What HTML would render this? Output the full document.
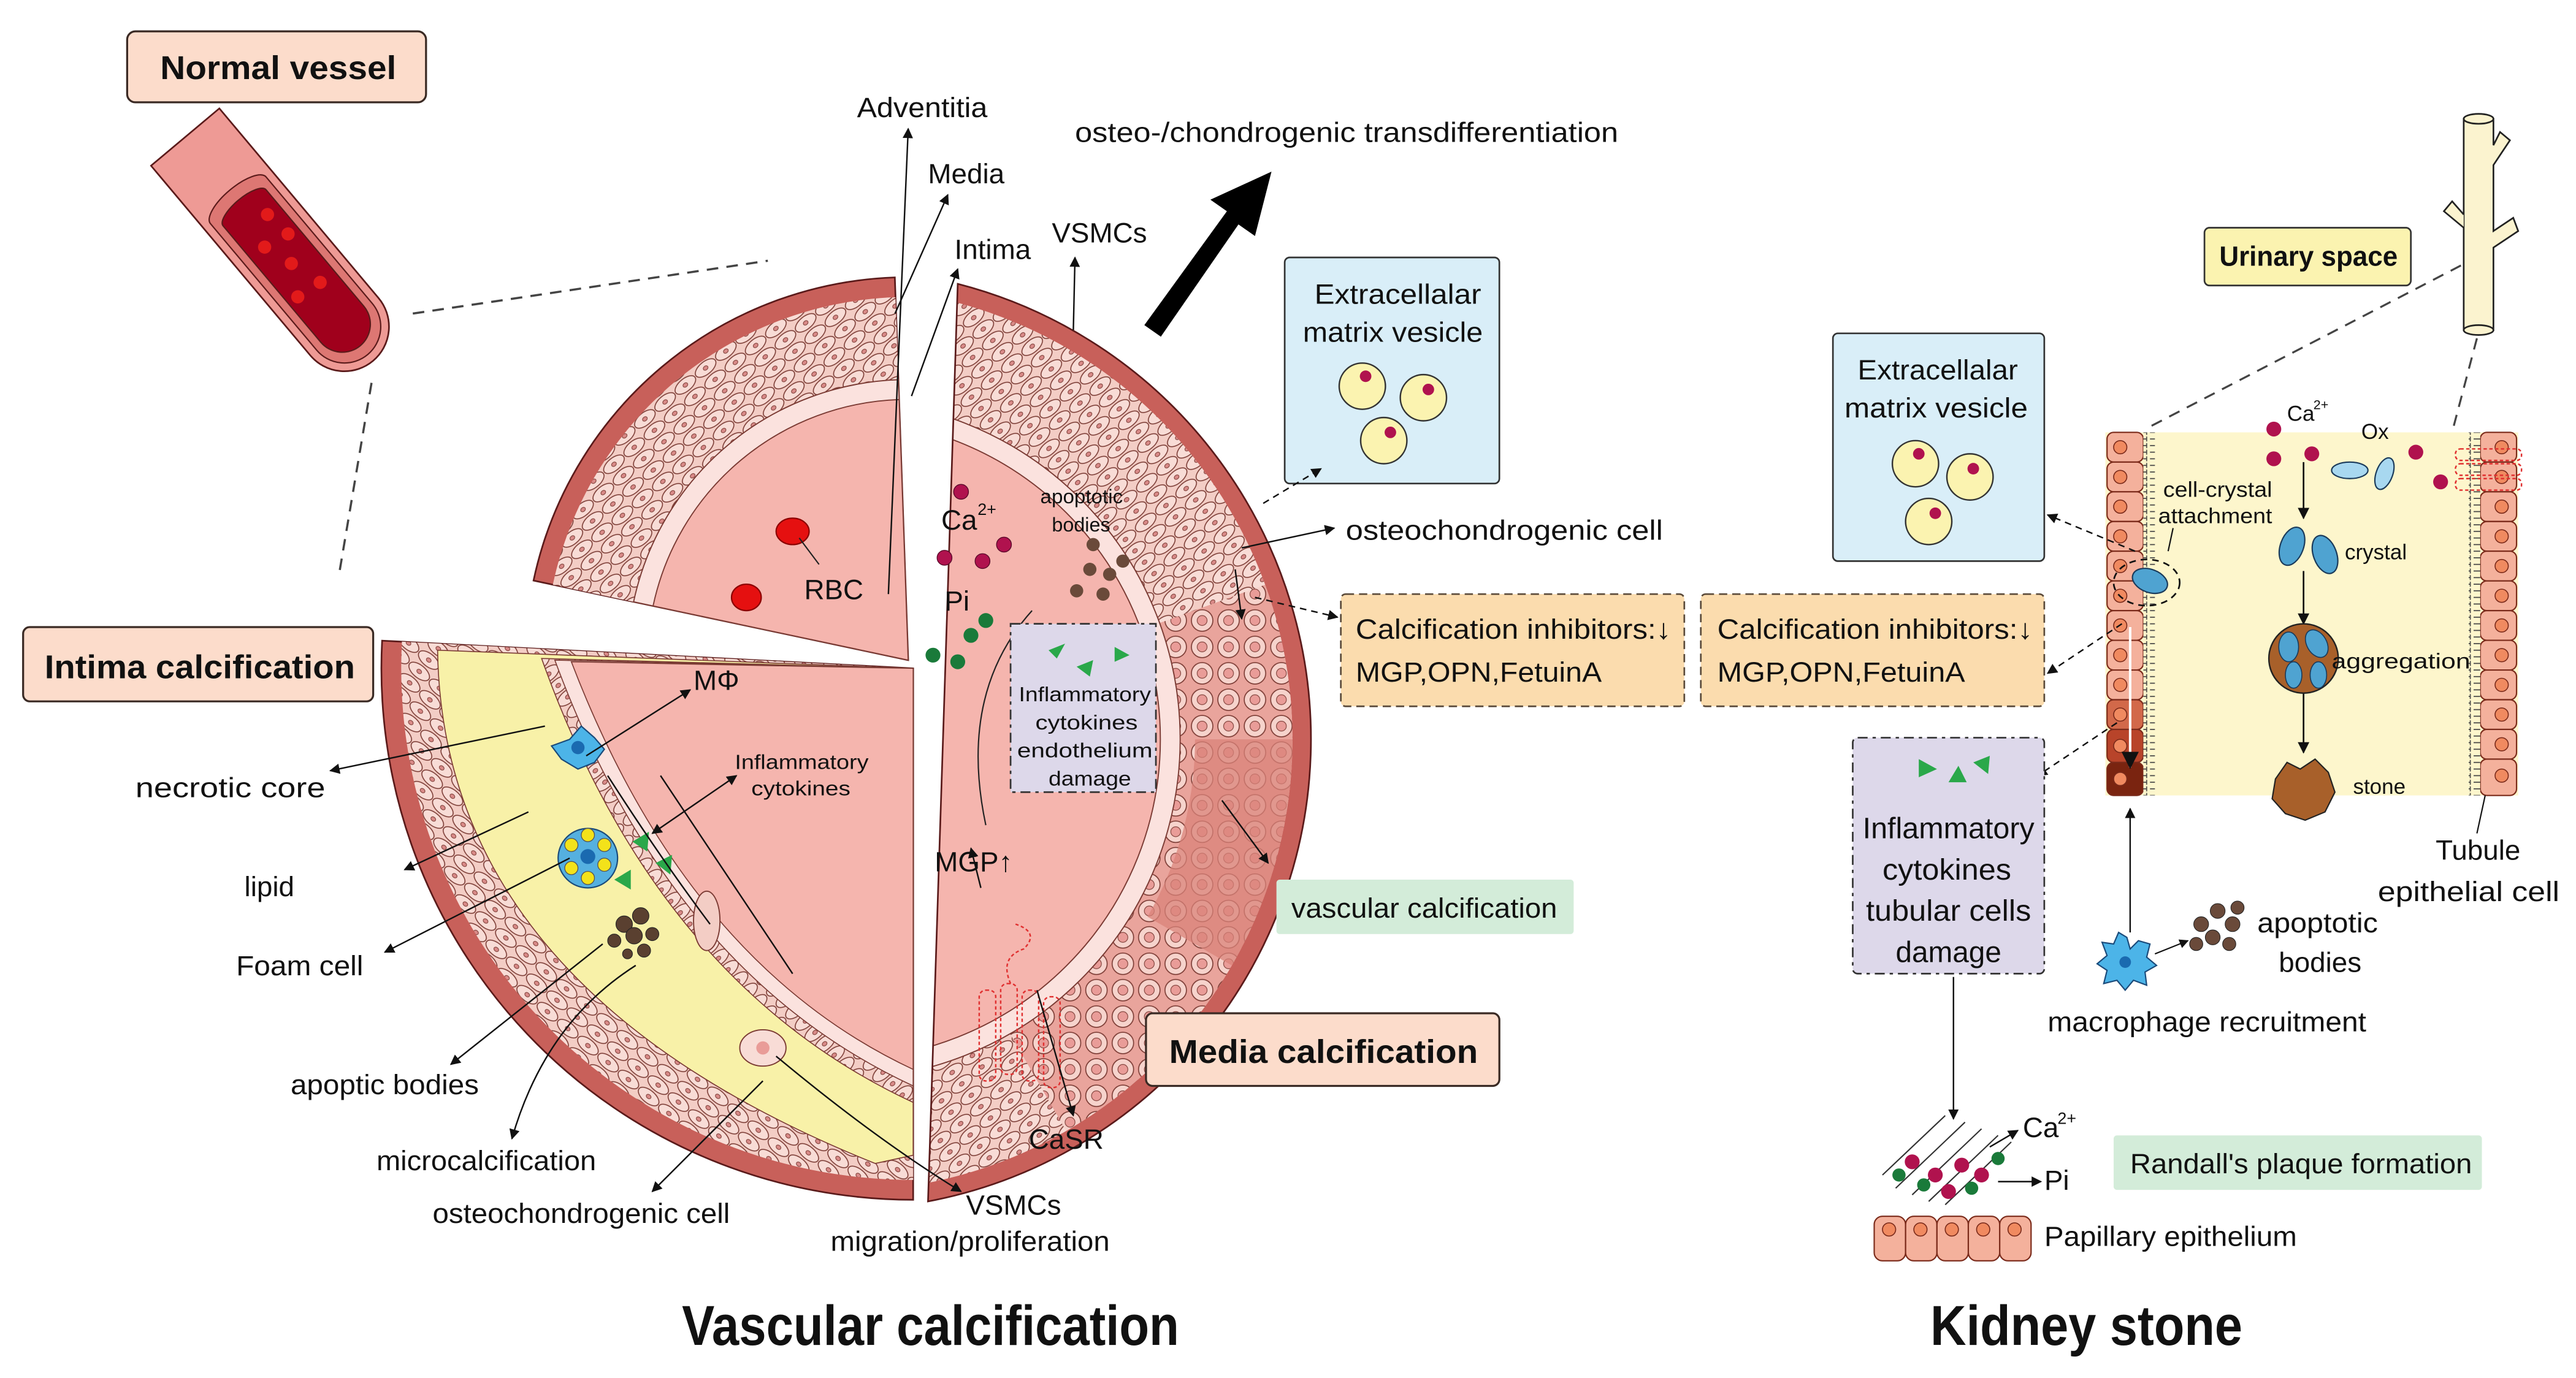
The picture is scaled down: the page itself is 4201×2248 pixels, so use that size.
<!DOCTYPE html>
<html><head><meta charset="utf-8">
<style>
html,body{margin:0;padding:0;background:#fff;}
svg{display:block;}
text{font-family:"Liberation Sans",Arial,sans-serif;fill:#111;}
</style></head>
<body>
<svg width="4201" height="2248" viewBox="0 0 1560 835" preserveAspectRatio="none" xmlns="http://www.w3.org/2000/svg">
<defs>
<marker id="ah" viewBox="0 0 10 10" refX="9" refY="5" markerWidth="7" markerHeight="7" orient="auto-start-reverse"><path d="M0,0 L10,5 L0,10 z" fill="#111"/></marker>
<pattern id="cells" width="16" height="9" patternUnits="userSpaceOnUse" patternTransform="rotate(-40)">
<rect width="16" height="9" fill="#f3cdc5"/>
<ellipse cx="8" cy="4.5" rx="7.5" ry="3.8" fill="#f8dcd6" stroke="#7a3a33" stroke-width="0.6"/>
<ellipse cx="8" cy="4.5" rx="1.6" ry="1.2" fill="#d98a88" stroke="#7a3a33" stroke-width="0.4"/>
</pattern>
<pattern id="cells2" width="16" height="9" patternUnits="userSpaceOnUse" patternTransform="rotate(40)">
<rect width="16" height="9" fill="#f3cdc5"/>
<ellipse cx="8" cy="4.5" rx="7.5" ry="3.8" fill="#f8dcd6" stroke="#7a3a33" stroke-width="0.6"/>
<ellipse cx="8" cy="4.5" rx="1.6" ry="1.2" fill="#d98a88" stroke="#7a3a33" stroke-width="0.4"/>
</pattern>
<pattern id="calc" width="16" height="16" patternUnits="userSpaceOnUse">
<rect width="16" height="16" fill="#e9a49c"/>
<circle cx="8" cy="8" r="6.5" fill="#f6d3cc" stroke="#7a3a33" stroke-width="0.6"/>
<circle cx="8" cy="8" r="3" fill="#e99c98" stroke="#7a3a33" stroke-width="0.4"/>
</pattern>
<pattern id="villi" width="7" height="4" patternUnits="userSpaceOnUse">
<rect width="7" height="4" fill="#fdf6cc"/>
<path d="M0,2 H5 M5,0.5 V3.5" stroke="#444" stroke-width="0.6"/>
</pattern>
<clipPath id="rclip"><path d="M580,172 A285,285 0 0 1 562,728 Z"/></clipPath>
</defs>

<!-- Normal vessel -->
<rect x="77" y="19" width="181" height="43" rx="5" fill="#fcdccb" stroke="#3a2a24" stroke-width="1.2"/>
<text x="97" y="48" font-size="20" font-weight="bold" textLength="143" lengthAdjust="spacingAndGlyphs">Normal vessel</text>
<g transform="translate(170,152) rotate(50)">
<path d="M-90,-27 H60 A27,27 0 0 1 60,27 H-90 Z" fill="#ee9a95" stroke="#5a1a1a" stroke-width="1"/>
<path d="M-40,-22 H60 A22,22 0 0 1 60,22 H-40 A8,22 0 0 1 -40,-22Z" fill="#dd7773" stroke="#5a1a1a" stroke-width="0.8"/>
<path d="M-34,-17 H58 A17,17 0 0 1 58,17 H-34 A6,17 0 0 1 -34,-17Z" fill="#a0001c" stroke="#5a1a1a" stroke-width="0.8"/>
<circle cx="-22" cy="-8" r="4" fill="#e21a1a"/><circle cx="-5" cy="-10" r="4" fill="#e21a1a"/>
<circle cx="-8" cy="6" r="4" fill="#e21a1a"/><circle cx="10" cy="0" r="4" fill="#e21a1a"/>
<circle cx="30" cy="-6" r="4" fill="#e21a1a"/><circle cx="28" cy="10" r="4" fill="#e21a1a"/>
</g>
<line x1="250" y1="190" x2="465" y2="158" stroke="#444" stroke-width="1.3" stroke-dasharray="7,5"/>
<line x1="225" y1="232" x2="205" y2="350" stroke="#444" stroke-width="1.3" stroke-dasharray="7,5"/>

<!-- Top-left sector -->
<path d="M550,400 L323.1,351.8 A232,232 0 0 1 541.9,168.1 Z" fill="#c8605a" stroke="#5a1a1a" stroke-width="1"/>
<path d="M550,400 L334.8,354.3 A220,220 0 0 1 542.3,180.1 Z" fill="url(#cells)"/>
<path d="M550,400 L383.7,364.7 A170,170 0 0 1 544.1,230.1 Z" fill="#fbe2de" stroke="#7a3a33" stroke-width="0.7"/>
<path d="M550,400 L395.5,367.2 A158,158 0 0 1 544.5,242.1 Z" fill="#f5b5ae" stroke="#7a3a33" stroke-width="0.7"/>
<ellipse cx="480" cy="322" rx="10" ry="8" fill="#e51010" stroke="#8a0000" stroke-width="0.8"/>
<ellipse cx="452" cy="362" rx="9" ry="8" fill="#e51010" stroke="#8a0000" stroke-width="0.8"/>
<line x1="484" y1="326" x2="496" y2="342" stroke="#222" stroke-width="0.8"/>
<text x="487" y="363" font-size="17">RBC</text>

<!-- Bottom-left sector -->
<path d="M553,405 L231.4,388.2 A322,322 0 0 0 553,727 Z" fill="#c8605a" stroke="#5a1a1a" stroke-width="1"/>
<path d="M553,405 L243.4,388.8 A310,310 0 0 0 553,715 Z" fill="url(#cells2)"/>
<path d="M553,405 L265,394 Q268,600 530,705 L553,700 Z" fill="#f8f1a8" stroke="#7a3a33" stroke-width="0.6"/>
<path d="M553,405 L328,399 Q398,596 553,668 Z" fill="url(#cells)" stroke="#7a3a33" stroke-width="0.6"/>
<path d="M553,405 L336,400 Q406,590 553,658 Z" fill="#fbe2de" stroke="#7a3a33" stroke-width="0.6"/>
<path d="M553,405 L346,401 Q416,584 553,648 Z" fill="#f5b5ae" stroke="#7a3a33" stroke-width="0.6"/>
<!-- plaque content -->
<polygon points="345,448 352,440 360,447 366,454 360,462 350,466 340,460 334,452" fill="#4cb4e8" stroke="#1a4a7a" stroke-width="0.8"/>
<circle cx="350" cy="453" r="4" fill="#1a6ab0"/>
<circle cx="356" cy="520" r="18" fill="#55b0e0" stroke="#1a4a7a" stroke-width="0.8"/>
<g fill="#f3e21a" stroke="#555" stroke-width="0.5"><circle cx="346" cy="512" r="4"/><circle cx="356" cy="506" r="4"/><circle cx="366" cy="512" r="4"/><circle cx="366" cy="524" r="4"/><circle cx="356" cy="532" r="4"/><circle cx="346" cy="526" r="4"/></g>
<circle cx="356" cy="519" r="4.5" fill="#1a6ab0"/>
<g fill="#5a4030" stroke="#222" stroke-width="0.4"><circle cx="378" cy="560" r="5"/><circle cx="388" cy="555" r="5"/><circle cx="384" cy="567" r="5"/><circle cx="372" cy="570" r="4"/><circle cx="395" cy="566" r="4"/><circle cx="390" cy="576" r="4"/><circle cx="380" cy="578" r="3"/></g>
<polygon points="383,510 393,504 392,516" fill="#2aa84a"/><polygon points="397,523 407,518 406,530" fill="#2aa84a"/><polygon points="372,533 382,527 382,539" fill="#2aa84a"/>
<ellipse cx="428" cy="558" rx="8" ry="18" fill="#f3cdc5" stroke="#7a3a33" stroke-width="0.7"/>
<ellipse cx="462" cy="635" rx="14" ry="11" fill="#f8dcd6" stroke="#7a3a33" stroke-width="0.7"/>
<circle cx="462" cy="635" r="4" fill="#e99c98"/>

<!-- Right sector -->
<g clip-path="url(#rclip)">
<circle cx="508.7" cy="448" r="285" fill="#c8605a"/>
<circle cx="508.7" cy="448" r="274" fill="url(#cells)"/>
<path d="M766.2,354.3 A274,274 0 0 1 645.7,685.3 L611.7,626.4 A206,206 0 0 0 702.3,377.5 Z" fill="url(#calc)"/>
<path d="M782.7,448 A274,274 0 0 1 746,585 L694.9,555.5 A215,215 0 0 0 723.7,448 Z" fill="#d9837a" opacity="0.75"/>
<circle cx="508.7" cy="448" r="206" fill="#fbe2de" stroke="#7a3a33" stroke-width="0.7"/>
<circle cx="508.7" cy="448" r="194" fill="#f5b5ae" stroke="#7a3a33" stroke-width="0.7"/>
</g>
<path d="M580,172 A285,285 0 0 1 562,728 Z" fill="none" stroke="#5a1a1a" stroke-width="1"/>
<g fill="#b0124e" stroke="#5a0a2a" stroke-width="0.5"><circle cx="582" cy="298" r="4.5"/><circle cx="608" cy="330" r="4.5"/><circle cx="595" cy="340" r="4.5"/><circle cx="572" cy="338" r="4.5"/></g>
<text x="570" y="321" font-size="17">Ca</text><text x="592" y="312" font-size="10">2+</text>
<text x="572" y="370" font-size="17">Pi</text>
<g fill="#1a7a3a"><circle cx="565" cy="397" r="4.5"/><circle cx="588" cy="385" r="4.5"/><circle cx="580" cy="401" r="4.5"/><circle cx="597" cy="376" r="4.5"/></g>
<g fill="#6a4a3a"><circle cx="660" cy="345" r="4"/><circle cx="672" cy="348" r="4"/><circle cx="652" cy="358" r="4"/><circle cx="668" cy="360" r="4"/><circle cx="680" cy="340" r="4"/><circle cx="662" cy="330" r="4"/></g>
<text x="630" y="305" font-size="12" textLength="50" lengthAdjust="spacingAndGlyphs">apoptotic</text>
<text x="637" y="322" font-size="12">bodies</text>
<path d="M625,370 Q580,420 597,500" stroke="#222" fill="none" stroke-width="0.8"/>
<rect x="612" y="378" width="88" height="102" fill="#ddd8ea" stroke="#333" stroke-width="1" stroke-dasharray="6,3,2,3"/>
<polygon points="635,394 645,390 640,399" fill="#2aa84a"/><polygon points="652,404 662,400 660,410" fill="#2aa84a"/><polygon points="675,392 684,397 675,401" fill="#2aa84a"/>
<text x="617" y="425" font-size="12.5" textLength="80" lengthAdjust="spacingAndGlyphs">Inflammatory</text>
<text x="627" y="442" font-size="12.5" textLength="62" lengthAdjust="spacingAndGlyphs">cytokines</text>
<text x="616" y="459" font-size="12.5" textLength="82" lengthAdjust="spacingAndGlyphs">endothelium</text>
<text x="635" y="476" font-size="12.5" textLength="50" lengthAdjust="spacingAndGlyphs">damage</text>
<g stroke="#e03030" fill="none" stroke-width="0.9" stroke-dasharray="2,1.5">
<rect x="593" y="600" width="10" height="55" rx="4"/><rect x="606" y="596" width="10" height="55" rx="4"/><rect x="619" y="600" width="10" height="55" rx="4"/><rect x="632" y="604" width="10" height="55" rx="4"/>
<path d="M612,596 Q605,580 620,575 Q630,565 615,560"/></g>
<text x="566" y="528" font-size="17">MGP↑</text>
<line x1="594" y1="538" x2="588" y2="514" stroke="#111" stroke-width="0.9" marker-end="url(#ah)"/>
<line x1="628" y1="600" x2="650" y2="676" stroke="#111" stroke-width="0.9" marker-end="url(#ah)"/>
<text x="623" y="696" font-size="17">CaSR</text>

<!-- top labels -->
<line x1="538" y1="360" x2="550" y2="78" stroke="#111" stroke-width="0.9" marker-end="url(#ah)"/>
<line x1="542" y1="190" x2="574" y2="118" stroke="#111" stroke-width="0.9" marker-end="url(#ah)"/>
<line x1="552" y1="240" x2="580" y2="163" stroke="#111" stroke-width="0.9" marker-end="url(#ah)"/>
<line x1="650" y1="200" x2="651" y2="156" stroke="#111" stroke-width="0.9" marker-end="url(#ah)"/>
<text x="519" y="71" font-size="17" textLength="79" lengthAdjust="spacingAndGlyphs">Adventitia</text>
<text x="562" y="111" font-size="17">Media</text>
<text x="578" y="157" font-size="17">Intima</text>
<text x="637" y="147" font-size="17">VSMCs</text>
<text x="651" y="86" font-size="17" textLength="329" lengthAdjust="spacingAndGlyphs">osteo-/chondrogenic transdifferentiation</text>
<polygon points="693,197 743,128 733,121 770,104 760,143 750,136 703,204" fill="#000"/>

<!-- ECM vesicle box -->
<rect x="778" y="156" width="130" height="137" rx="3" fill="#d9eef8" stroke="#333" stroke-width="1"/>
<text x="796" y="184" font-size="17" textLength="101" lengthAdjust="spacingAndGlyphs">Extracellalar</text>
<text x="789" y="207" font-size="17" textLength="109" lengthAdjust="spacingAndGlyphs">matrix vesicle</text>
<g fill="#fbf3b0" stroke="#333" stroke-width="0.9"><circle cx="825" cy="234" r="14"/><circle cx="862" cy="241" r="14"/><circle cx="838" cy="267" r="14"/></g>
<g fill="#b0124e"><circle cx="827" cy="228" r="3.5"/><circle cx="865" cy="236" r="3.5"/><circle cx="842" cy="262" r="3.5"/></g>
<line x1="765" y1="305" x2="800" y2="284" stroke="#111" stroke-width="0.9" stroke-dasharray="4,3" marker-end="url(#ah)"/>
<line x1="752" y1="332" x2="808" y2="320" stroke="#111" stroke-width="0.9" marker-end="url(#ah)"/>
<text x="815" y="327" font-size="17" textLength="192" lengthAdjust="spacingAndGlyphs">osteochondrogenic cell</text>
<line x1="760" y1="362" x2="810" y2="374" stroke="#111" stroke-width="0.9" stroke-dasharray="4,3" marker-end="url(#ah)"/>
<line x1="748" y1="345" x2="752" y2="375" stroke="#111" stroke-width="0.9" marker-end="url(#ah)"/>
<line x1="740" y1="485" x2="768" y2="523" stroke="#111" stroke-width="0.9" marker-end="url(#ah)"/>

<!-- inhibitor boxes -->
<rect x="812" y="360" width="208" height="68" rx="3" fill="#fbdcae" stroke="#5a4a3a" stroke-width="1" stroke-dasharray="5,3"/>
<text x="821" y="387" font-size="17" textLength="191" lengthAdjust="spacingAndGlyphs">Calcification inhibitors:↓</text>
<text x="821" y="413" font-size="17" textLength="149" lengthAdjust="spacingAndGlyphs">MGP,OPN,FetuinA</text>
<rect x="1030" y="360" width="208" height="68" rx="3" fill="#fbdcae" stroke="#5a4a3a" stroke-width="1" stroke-dasharray="5,3"/>
<text x="1040" y="387" font-size="17" textLength="191" lengthAdjust="spacingAndGlyphs">Calcification inhibitors:↓</text>
<text x="1040" y="413" font-size="17" textLength="150" lengthAdjust="spacingAndGlyphs">MGP,OPN,FetuinA</text>

<rect x="773" y="533" width="180" height="33" rx="2" fill="#d3ecd9"/>
<text x="782" y="556" font-size="17" textLength="161" lengthAdjust="spacingAndGlyphs">vascular calcification</text>
<rect x="694" y="614" width="214" height="44" rx="4" fill="#fcdccb" stroke="#3a2a24" stroke-width="1.2"/>
<text x="708" y="644" font-size="20" font-weight="bold" textLength="187" lengthAdjust="spacingAndGlyphs">Media calcification</text>

<!-- Intima calcification label & left labels -->
<rect x="14" y="380" width="212" height="45" rx="4" fill="#fcdccb" stroke="#3a2a24" stroke-width="1.2"/>
<text x="27" y="411" font-size="20" font-weight="bold" textLength="188" lengthAdjust="spacingAndGlyphs">Intima calcification</text>
<g stroke="#111" stroke-width="0.9" fill="none">
<line x1="330" y1="440" x2="200" y2="467" marker-end="url(#ah)"/>
<line x1="320" y1="492" x2="245" y2="527" marker-end="url(#ah)"/>
<line x1="345" y1="520" x2="233" y2="577" marker-end="url(#ah)"/>
<line x1="365" y1="572" x2="273" y2="645" marker-end="url(#ah)"/>
<path d="M385,585 Q330,620 310,690" marker-end="url(#ah)"/>
<line x1="462" y1="655" x2="395" y2="722" marker-end="url(#ah)"/>
<path d="M470,640 Q530,690 582,722" marker-end="url(#ah)"/>
<line x1="355" y1="458" x2="418" y2="418" marker-end="url(#ah)"/>
<line x1="395" y1="505" x2="446" y2="470" marker-start="url(#ah)" marker-end="url(#ah)"/>
<path d="M368,470 Q400,520 430,560"/>
<path d="M400,470 Q440,530 480,590"/>
</g>
<text x="420" y="418" font-size="17">MΦ</text>
<text x="445" y="466" font-size="12.5" textLength="81" lengthAdjust="spacingAndGlyphs">Inflammatory</text>
<text x="455" y="482" font-size="12.5" textLength="60" lengthAdjust="spacingAndGlyphs">cytokines</text>
<text x="82" y="483" font-size="17" textLength="115" lengthAdjust="spacingAndGlyphs">necrotic core</text>
<text x="148" y="543" font-size="17">lipid</text>
<text x="143" y="591" font-size="17" textLength="77" lengthAdjust="spacingAndGlyphs">Foam cell</text>
<text x="176" y="663" font-size="17" textLength="114" lengthAdjust="spacingAndGlyphs">apoptic bodies</text>
<text x="228" y="709" font-size="17" textLength="133" lengthAdjust="spacingAndGlyphs">microcalcification</text>
<text x="262" y="741" font-size="17" textLength="180" lengthAdjust="spacingAndGlyphs">osteochondrogenic cell</text>
<text x="585" y="736" font-size="17">VSMCs</text>
<text x="503" y="758" font-size="17" textLength="169" lengthAdjust="spacingAndGlyphs">migration/proliferation</text>

<text x="413" y="815" font-size="34" font-weight="bold" textLength="301" lengthAdjust="spacingAndGlyphs">Vascular calcification</text>
<text x="1169" y="815" font-size="34" font-weight="bold" textLength="189" lengthAdjust="spacingAndGlyphs">Kidney stone</text>

<!-- Kidney right panel -->
<rect x="1335" y="138" width="125" height="35" rx="3" fill="#fbf3b0" stroke="#333" stroke-width="1"/>
<text x="1344" y="161" font-size="17" font-weight="bold" textLength="108" lengthAdjust="spacingAndGlyphs">Urinary space</text>
<path d="M1492,72 V200 H1510 V150 L1525,140 L1522,132 L1510,140 V100 L1520,85 L1514,80 L1510,88 V72 Z" fill="#fbf3cf" stroke="#222" stroke-width="1"/>
<path d="M1492,138 L1480,128 L1485,122 L1492,130" fill="#fbf3cf" stroke="#222" stroke-width="1"/>
<ellipse cx="1501" cy="72" rx="9" ry="3" fill="#fbf3cf" stroke="#222" stroke-width="1"/>
<ellipse cx="1501" cy="200" rx="9" ry="3" fill="#fbf3cf" stroke="#222" stroke-width="1"/>
<line x1="1303" y1="258" x2="1492" y2="160" stroke="#444" stroke-width="1.2" stroke-dasharray="7,5"/>
<line x1="1500" y1="205" x2="1486" y2="258" stroke="#444" stroke-width="1.2" stroke-dasharray="7,5"/>

<rect x="1110" y="202" width="128" height="138" rx="3" fill="#d9eef8" stroke="#333" stroke-width="1"/>
<text x="1125" y="230" font-size="17" textLength="97" lengthAdjust="spacingAndGlyphs">Extracellalar</text>
<text x="1117" y="253" font-size="17" textLength="111" lengthAdjust="spacingAndGlyphs">matrix vesicle</text>
<g fill="#fbf3b0" stroke="#333" stroke-width="0.9"><circle cx="1160" cy="281" r="14"/><circle cx="1193" cy="289" r="14"/><circle cx="1168" cy="316" r="14"/></g>
<g fill="#b0124e"><circle cx="1162" cy="275" r="3.5"/><circle cx="1195" cy="284" r="3.5"/><circle cx="1172" cy="311" r="3.5"/></g>

<rect x="1275" y="262" width="250" height="220" fill="#fdf6cc"/>
<g fill="#f4b19c" stroke="#7a2a1a" stroke-width="0.8">
<rect x="1276" y="262" width="22" height="18" rx="4"/><rect x="1276" y="280" width="22" height="18" rx="4"/><rect x="1276" y="298" width="22" height="18" rx="4"/><rect x="1276" y="316" width="22" height="18" rx="4"/><rect x="1276" y="334" width="22" height="18" rx="4"/><rect x="1276" y="352" width="22" height="18" rx="4"/><rect x="1276" y="370" width="22" height="18" rx="4"/><rect x="1276" y="388" width="22" height="18" rx="4"/><rect x="1276" y="406" width="22" height="18" rx="4"/><rect x="1276" y="424" width="22" height="18" rx="4" fill="#d2694a"/><rect x="1276" y="442" width="22" height="20" rx="4" fill="#b8442a"/><rect x="1276" y="462" width="22" height="20" rx="4" fill="#7a2410"/>
<rect x="1502" y="262" width="22" height="18" rx="4"/><rect x="1502" y="280" width="22" height="18" rx="4"/><rect x="1502" y="298" width="22" height="18" rx="4"/><rect x="1502" y="316" width="22" height="18" rx="4"/><rect x="1502" y="334" width="22" height="18" rx="4"/><rect x="1502" y="352" width="22" height="18" rx="4"/><rect x="1502" y="370" width="22" height="18" rx="4"/><rect x="1502" y="388" width="22" height="18" rx="4"/><rect x="1502" y="406" width="22" height="18" rx="4"/><rect x="1502" y="424" width="22" height="18" rx="4"/><rect x="1502" y="442" width="22" height="18" rx="4"/><rect x="1502" y="460" width="22" height="22" rx="4"/>
</g>
<g fill="#f08a60" stroke="#7a2a1a" stroke-width="0.6">
<circle cx="1284" cy="271" r="4"/><circle cx="1284" cy="289" r="4"/><circle cx="1284" cy="307" r="4"/><circle cx="1284" cy="325" r="4"/><circle cx="1284" cy="343" r="4"/><circle cx="1284" cy="361" r="4"/><circle cx="1284" cy="379" r="4"/><circle cx="1284" cy="397" r="4"/><circle cx="1284" cy="415" r="4"/><circle cx="1284" cy="433" r="4"/><circle cx="1284" cy="452" r="4"/><circle cx="1284" cy="472" r="4"/>
<circle cx="1515" cy="271" r="4"/><circle cx="1515" cy="289" r="4"/><circle cx="1515" cy="307" r="4"/><circle cx="1515" cy="325" r="4"/><circle cx="1515" cy="343" r="4"/><circle cx="1515" cy="361" r="4"/><circle cx="1515" cy="379" r="4"/><circle cx="1515" cy="397" r="4"/><circle cx="1515" cy="415" r="4"/><circle cx="1515" cy="433" r="4"/><circle cx="1515" cy="451" r="4"/><circle cx="1515" cy="470" r="4"/>
</g>
<rect x="1298" y="262" width="7" height="220" fill="url(#villi)"/>
<rect x="1495" y="262" width="7" height="220" fill="url(#villi)"/>
<line x1="1290" y1="380" x2="1290" y2="465" stroke="#fff" stroke-width="1.5" marker-end="url(#ah)"/>
<ellipse cx="1302" cy="352" rx="11" ry="7" transform="rotate(20 1302 352)" fill="#4fa3d1" stroke="#1a3a5a" stroke-width="0.8"/>
<ellipse cx="1300" cy="353" rx="20" ry="14" fill="none" stroke="#111" stroke-width="1" stroke-dasharray="4,3"/>
<text x="1310" y="301" font-size="13" textLength="66" lengthAdjust="spacingAndGlyphs">cell-crystal</text>
<text x="1307" y="317" font-size="13" textLength="69" lengthAdjust="spacingAndGlyphs">attachment</text>
<line x1="1316" y1="320" x2="1313" y2="334" stroke="#111" stroke-width="0.8"/>
<g fill="#b0124e"><circle cx="1377" cy="260" r="4.5"/><circle cx="1377" cy="278" r="4.5"/><circle cx="1400" cy="275" r="4.5"/><circle cx="1463" cy="274" r="4.5"/><circle cx="1478" cy="292" r="4.5"/></g>
<text x="1385" y="255" font-size="13">Ca</text><text x="1401" y="248" font-size="8">2+</text>
<text x="1430" y="266" font-size="13">Ox</text>
<ellipse cx="1423" cy="285" rx="11" ry="5" fill="#a8d8f0" stroke="#1a3a5a" stroke-width="0.8"/>
<ellipse cx="1444" cy="287" rx="5" ry="10" transform="rotate(20 1444 287)" fill="#a8d8f0" stroke="#1a3a5a" stroke-width="0.8"/>
<g stroke="#e03030" fill="none" stroke-width="0.9" stroke-dasharray="2,1.5"><rect x="1487" y="272" width="40" height="7" rx="3"/><rect x="1487" y="281" width="40" height="7" rx="3"/><rect x="1487" y="290" width="40" height="7" rx="3"/></g>
<g stroke="#111" stroke-width="1" fill="none">
<line x1="1395" y1="280" x2="1395" y2="314" marker-end="url(#ah)"/>
<line x1="1395" y1="346" x2="1395" y2="378" marker-end="url(#ah)"/>
<line x1="1395" y1="418" x2="1395" y2="456" marker-end="url(#ah)"/>
</g>
<ellipse cx="1388" cy="331" rx="7" ry="12" transform="rotate(20 1388 331)" fill="#4fa3d1" stroke="#1a3a5a" stroke-width="0.8"/>
<ellipse cx="1408" cy="336" rx="7" ry="12" transform="rotate(-20 1408 336)" fill="#4fa3d1" stroke="#1a3a5a" stroke-width="0.8"/>
<text x="1420" y="339" font-size="13">crystal</text>
<circle cx="1395" cy="399" r="21" fill="#a8602a" stroke="#222" stroke-width="0.9"/>
<g fill="#4fa3d1" stroke="#1a3a5a" stroke-width="0.6"><ellipse cx="1386" cy="392" rx="6" ry="9"/><ellipse cx="1403" cy="390" rx="6" ry="9" transform="rotate(-30 1403 390)"/><ellipse cx="1389" cy="409" rx="5" ry="8"/><ellipse cx="1404" cy="409" rx="5" ry="8"/></g>
<text x="1412" y="405" font-size="13" textLength="84" lengthAdjust="spacingAndGlyphs">aggregation</text>
<path d="M1378,472 L1385,462 L1393,466 L1402,460 L1410,468 L1414,480 L1408,492 L1396,497 L1384,493 L1376,484 Z" fill="#a8602a" stroke="#222" stroke-width="0.8"/>
<text x="1425" y="481" font-size="13">stone</text>
<line x1="1505" y1="482" x2="1500" y2="505" stroke="#111" stroke-width="0.8"/>
<text x="1475" y="521" font-size="17">Tubule</text>
<text x="1440" y="546" font-size="17" textLength="110" lengthAdjust="spacingAndGlyphs">epithelial cell</text>

<g stroke="#111" stroke-width="0.9" fill="none" stroke-dasharray="4,3">
<line x1="1293" y1="334" x2="1240" y2="312" marker-end="url(#ah)"/>
<line x1="1285" y1="378" x2="1240" y2="408" marker-end="url(#ah)"/>
<line x1="1282" y1="438" x2="1234" y2="470" marker-end="url(#ah)"/>
</g>
<rect x="1122" y="447" width="116" height="143" rx="3" fill="#ddd8ea" stroke="#333" stroke-width="1" stroke-dasharray="6,3,2,3"/>
<polygon points="1162,460 1173,466 1162,471" fill="#2aa84a"/><polygon points="1180,474 1186,464 1191,474" fill="#2aa84a"/><polygon points="1195,462 1205,458 1204,469" fill="#2aa84a"/>
<text x="1128" y="508" font-size="18" textLength="104" lengthAdjust="spacingAndGlyphs">Inflammatory</text>
<text x="1140" y="533" font-size="18" textLength="78" lengthAdjust="spacingAndGlyphs">cytokines</text>
<text x="1130" y="558" font-size="18" textLength="100" lengthAdjust="spacingAndGlyphs">tubular cells</text>
<text x="1148" y="583" font-size="18" textLength="64" lengthAdjust="spacingAndGlyphs">damage</text>

<line x1="1290" y1="565" x2="1290" y2="490" stroke="#111" stroke-width="0.9" marker-end="url(#ah)"/>
<polygon points="1283,565 1288,568 1290,575 1295,570 1302,572 1300,580 1306,585 1299,589 1300,597 1292,594 1287,600 1282,594 1274,596 1276,588 1270,584 1276,579 1273,571 1280,572" fill="#4cb4e8" stroke="#1a4a7a" stroke-width="0.8"/>
<circle cx="1287" cy="583" r="3.5" fill="#1a6ab0"/>
<line x1="1305" y1="578" x2="1325" y2="570" stroke="#111" stroke-width="0.8" marker-end="url(#ah)"/>
<g fill="#6a4a3a" stroke="#222" stroke-width="0.4"><circle cx="1333" cy="560" r="4.5"/><circle cx="1343" cy="552" r="4.5"/><circle cx="1352" cy="560" r="4.5"/><circle cx="1340" cy="568" r="4.5"/><circle cx="1355" cy="550" r="4"/><circle cx="1330" cy="572" r="4"/><circle cx="1350" cy="572" r="4"/></g>
<text x="1367" y="565" font-size="17" textLength="73" lengthAdjust="spacingAndGlyphs">apoptotic</text>
<text x="1380" y="589" font-size="17">bodies</text>
<text x="1240" y="625" font-size="17" textLength="193" lengthAdjust="spacingAndGlyphs">macrophage recruitment</text>

<line x1="1183" y1="592" x2="1183" y2="678" stroke="#111" stroke-width="0.9" marker-end="url(#ah)"/>
<g stroke="#333" stroke-width="0.8"><line x1="1148" y1="720" x2="1190" y2="680"/><line x1="1158" y1="724" x2="1200" y2="684"/><line x1="1168" y1="728" x2="1210" y2="688"/><line x1="1178" y1="730" x2="1218" y2="692"/><line x1="1140" y1="712" x2="1178" y2="676"/></g>
<g fill="#b0124e"><circle cx="1158" cy="704" r="4.5"/><circle cx="1172" cy="712" r="4.5"/><circle cx="1188" cy="706" r="4.5"/><circle cx="1200" cy="712" r="4.5"/><circle cx="1180" cy="722" r="4.5"/></g>
<g fill="#1a7a3a"><circle cx="1165" cy="718" r="4"/><circle cx="1194" cy="720" r="4"/><circle cx="1210" cy="702" r="4"/><circle cx="1150" cy="712" r="4"/></g>
<line x1="1205" y1="695" x2="1222" y2="685" stroke="#111" stroke-width="0.9" marker-end="url(#ah)"/>
<line x1="1210" y1="716" x2="1236" y2="716" stroke="#111" stroke-width="0.9" marker-end="url(#ah)"/>
<text x="1225" y="689" font-size="17">Ca</text><text x="1246" y="681" font-size="10">2+</text>
<text x="1238" y="721" font-size="17">Pi</text>
<g fill="#f4b19c" stroke="#7a2a1a" stroke-width="0.8"><rect x="1135" y="737" width="19" height="27" rx="5"/><rect x="1154" y="737" width="19" height="27" rx="5"/><rect x="1173" y="737" width="19" height="27" rx="5"/><rect x="1192" y="737" width="19" height="27" rx="5"/><rect x="1211" y="737" width="19" height="27" rx="5"/></g>
<g fill="#f08a60" stroke="#7a2a1a" stroke-width="0.6"><circle cx="1144" cy="745" r="4"/><circle cx="1163" cy="745" r="4"/><circle cx="1182" cy="745" r="4"/><circle cx="1201" cy="745" r="4"/><circle cx="1220" cy="745" r="4"/></g>
<text x="1238" y="755" font-size="17" textLength="153" lengthAdjust="spacingAndGlyphs">Papillary epithelium</text>
<rect x="1280" y="688" width="223" height="33" rx="2" fill="#d3ecd9"/>
<text x="1290" y="711" font-size="17" textLength="207" lengthAdjust="spacingAndGlyphs">Randall's plaque formation</text>
</svg>
</body></html>
